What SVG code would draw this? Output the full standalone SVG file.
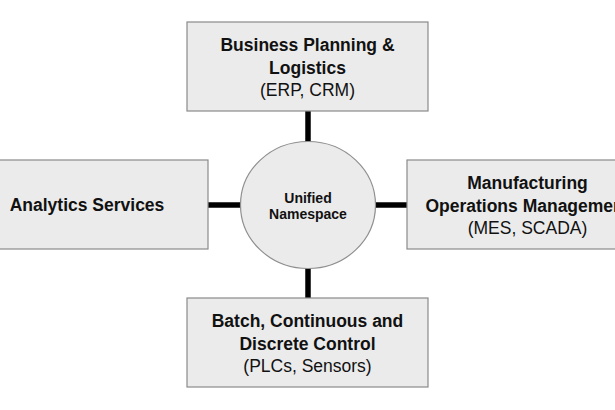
<svg xmlns="http://www.w3.org/2000/svg" width="615" height="410" viewBox="0 0 615 410">
<style>
.box{fill:#ebebeb;stroke:#8a8a8a;stroke-width:1.2}
.hub{fill:#ebebeb;stroke:#8f8f8f;stroke-width:1.2}
.t{font-family:"Liberation Sans",Arial,sans-serif;font-size:17.5px;fill:#111;text-anchor:middle}
.b{font-weight:bold}
.h{font-family:"Liberation Sans",Arial,sans-serif;font-size:14px;font-weight:bold;fill:#111;text-anchor:middle}
.c{stroke:#000;stroke-width:5.5;fill:none}
</style>
<rect width="615" height="410" fill="#fff"/>
<g id="connectors">
<line class="c" x1="308" y1="111" x2="308" y2="142"/>
<line class="c" x1="308" y1="268" x2="308" y2="298"/>
<line class="c" x1="208" y1="205" x2="241" y2="205"/>
<line class="c" x1="375" y1="205" x2="407" y2="205"/>
</g>
<g id="business">
<rect class="box" x="187" y="22" width="241" height="89"/>
<text class="t b" x="307.5" y="51">Business Planning &amp;</text>
<text class="t b" x="307.5" y="73.5">Logistics</text>
<text class="t" x="307.5" y="96">(ERP, CRM)</text>
</g>
<g id="analytics">
<rect class="box" x="-34" y="160" width="242" height="89"/>
<text class="t b" x="87" y="211">Analytics Services</text>
</g>
<g id="manufacturing">
<rect class="box" x="407" y="160" width="241" height="89"/>
<text class="t b" x="527.5" y="189">Manufacturing</text>
<text class="t b" x="527.5" y="211.5">Operations Management</text>
<text class="t" x="527.5" y="234">(MES, SCADA)</text>
</g>
<g id="control">
<rect class="box" x="187" y="298" width="241" height="89"/>
<text class="t b" x="307.5" y="327">Batch, Continuous and</text>
<text class="t b" x="307.5" y="349.5">Discrete Control</text>
<text class="t" x="307.5" y="372">(PLCs, Sensors)</text>
</g>
<g id="uns">
<ellipse class="hub" cx="308" cy="205" rx="67.5" ry="63.5"/>
<text class="h" x="308" y="203">Unified</text>
<text class="h" x="308" y="219">Namespace</text>
</g>
</svg>
